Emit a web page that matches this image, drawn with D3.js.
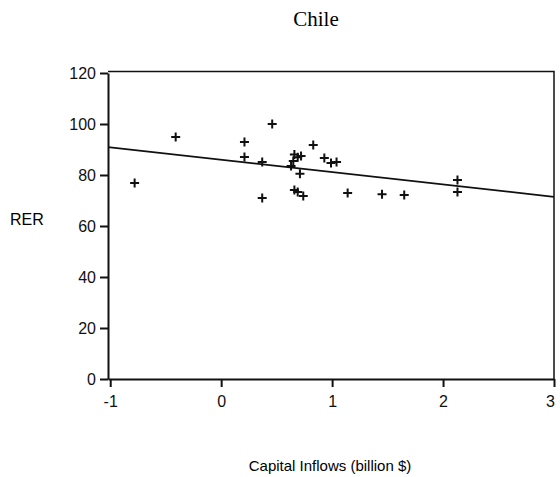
<!DOCTYPE html>
<html>
<head>
<meta charset="utf-8">
<script src="https://cdn.jsdelivr.net/npm/d3@7"></script>
<style>
  body { margin: 0; background: #fff; }
  svg { display: block; }
  .tick text { font-family: "Liberation Sans", Arial, sans-serif; font-size: 16px; fill: #111; }
  .tick line, .domain { stroke: #111; stroke-width: 2px; }
</style>
</head>
<body>
<svg id="chart" width="560" height="477"></svg>
<script>
// capital inflows (billion $) vs real exchange rate, Chile
var inflows = [-0.78, -0.41, 0.21, 0.21, 0.37, 0.37, 0.46, 0.63, 0.65, 0.66, 0.69, 0.72, 0.71,
    0.66, 0.69, 0.74, 0.83, 0.93, 0.99, 1.04, 1.14, 1.45, 1.65, 2.13, 2.13];
var rer = [76.9, 94.9, 92.9, 87.1, 85.1, 71, 100, 83.5, 85.5, 88, 87, 87.5, 80.5,
    74.1, 73.3, 71.8, 91.8, 86.7, 84.7, 85.1, 72.9, 72.5, 72.2, 78, 73.3];
var fitLine = [86.0, -4.85]; // intercept, slope
var xTicks = [-1, 0, 1, 2, 3];
var yTicks = [0, 20, 40, 60, 80, 100, 120];

var svg = d3.select('#chart');
var x = d3.scaleLinear().domain([-1.02, 3]).range([108, 554]);
var y = d3.scaleLinear().domain([0, 120]).range([379, 73]);

// title
svg.append('text')
    .attr('x', 316).attr('y', 26)
    .attr('text-anchor', 'middle')
    .style('font-family', '"Liberation Serif", "Times New Roman", serif')
    .style('font-size', '21px')
    .text('Chile');

// frame (top and right)
svg.append('path')
    .attr('d', 'M' + x(-1.02) + ',' + y(120.6) + 'H' + x(3) + 'V' + y(0))
    .attr('fill', 'none')
    .attr('stroke', '#111')
    .attr('stroke-width', 1.5);

var xAxis = svg.append('g')
    .attr('transform', 'translate(0,' + y(0) + ')')
    .call(d3.axisBottom(x).tickValues(xTicks).tickFormat(function (d) { return String(d); })
        .tickSize(8).tickSizeOuter(0).tickPadding(9));
// last label sits on the edge, pull it in a little
xAxis.selectAll('.tick text').filter(function (d) { return d === 3; }).attr('dx', -4);

svg.append('g')
    .attr('transform', 'translate(' + x(-1.02) + ',0)')
    .call(d3.axisLeft(y).tickValues(yTicks).tickFormat(function (d) { return String(d); })
        .tickSize(8).tickSizeOuter(0).tickPadding(4));

// regression line
svg.append('line')
    .attr('x1', x(-1.02)).attr('y1', y(fitLine[0] + fitLine[1] * -1.02))
    .attr('x2', x(3)).attr('y2', y(fitLine[0] + fitLine[1] * 3))
    .attr('stroke', '#111')
    .attr('stroke-width', 1.8);

// plus markers
var pts = inflows.map(function (d, i) { return { x: d, y: rer[i] }; });
svg.append('g').selectAll('path')
    .data(pts)
    .enter().append('path')
    .attr('d', function (d) {
        var cx = x(d.x), cy = y(d.y);
        return 'M' + (cx - 4.5) + ',' + cy + 'H' + (cx + 4.5) + 'M' + cx + ',' + (cy - 4.5) + 'V' + (cy + 4.5);
    })
    .attr('stroke', '#111')
    .attr('stroke-width', 2);

// axis labels
svg.append('text')
    .attr('x', 10).attr('y', 225)
    .style('font-family', '"Liberation Sans", Arial, sans-serif')
    .style('font-size', '16px')
    .text('RER');

svg.append('text')
    .attr('x', 330).attr('y', 471)
    .attr('text-anchor', 'middle')
    .style('font-family', '"Liberation Sans", Arial, sans-serif')
    .style('font-size', '15px')
    .text('Capital Inflows (billion $)');
</script>
</body>
</html>
